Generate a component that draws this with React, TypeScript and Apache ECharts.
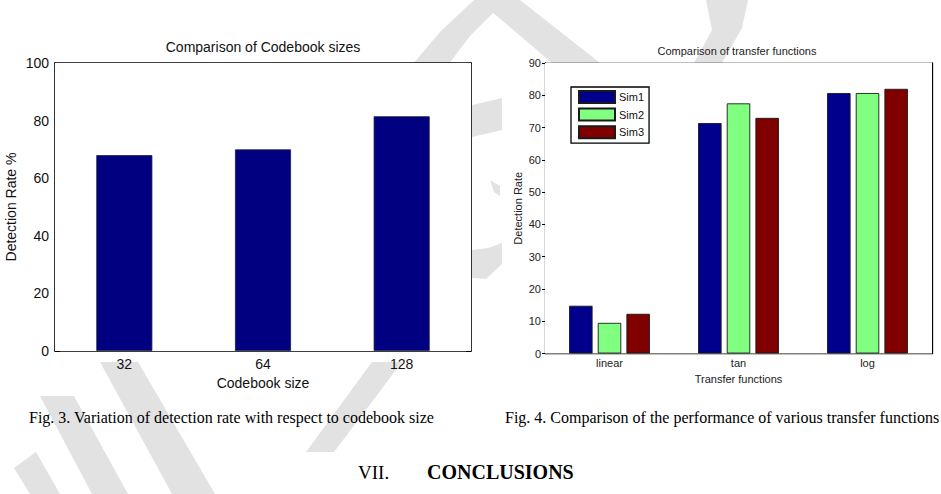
import React, { useEffect, useRef } from "react";
import * as echarts from "echarts";

// Fig. 3 data
const codebookSizes = ["32", "64", "128"];
const codebookRates = [68, 70, 81.5];
const codebookTicks = { min: 0, max: 100, interval: 20 };

// Fig. 4 data
const transferFunctions = ["linear", "tan", "log"];
const simNames = ["Sim1", "Sim2", "Sim3"];
const sim1Rates = [14.8, 71.4, 80.7];
const sim2Rates = [9.5, 77.5, 80.7];
const sim3Rates = [12.3, 73.0, 82.0];
const transferTicks = { min: 0, max: 90, interval: 10 };

const simColors = ["#00008c", "#80ff80", "#800000"];

// Captions and section heading below the figures
const fig3Caption = "Fig. 3. Variation of detection rate with respect to codebook size";
const fig4Caption = "Fig. 4. Comparison of the performance of various transfer functions";
const sectionNumber = "VII.";
const sectionTitle = "CONCLUSIONS";

const SANS = "'Liberation Sans', Arial, Helvetica, sans-serif";
const SERIF = "'Liberation Serif', 'Times New Roman', serif";
const WM = "#e2e2e2";

function wm(points: number[][]) {
  return { type: "polygon", z: -10, silent: true, shape: { points }, style: { fill: WM } };
}

export default function App() {
  const ref = useRef<HTMLDivElement>(null);

  useEffect(() => {
    if (!ref.current) return;
    const chart = echarts.init(ref.current, undefined, { renderer: "svg" });

    const boxAxis = (gridIndex: number, data: string[], position: "top" | "bottom", lw: number) => ({
      type: "category",
      gridIndex,
      data,
      position,
      axisLine: { show: true, onZero: false, lineStyle: { color: "#000", width: lw } },
      axisTick: { show: true, inside: true, alignWithLabel: true, length: 5, lineStyle: { color: "#000", width: 1 } },
      axisLabel: { show: false },
      splitLine: { show: false },
    });

    const option: any = {
      animation: false,
      backgroundColor: "#fff",
      textStyle: { fontFamily: SANS },
      grid: [
        { left: 55, top: 63, width: 416, height: 288, show: true, backgroundColor: "#fff", borderWidth: 0, z: 1 },
        { left: 545, top: 63, width: 387, height: 290.5, show: true, backgroundColor: "#fff", borderWidth: 0, z: 1 },
      ],
      legend: {
        data: simNames,
        orient: "vertical",
        left: 571,
        top: 87,
        icon: "rect",
        itemWidth: 36,
        itemHeight: 12,
        itemGap: 3.6,
        padding: [3, 5, 4, 7],
        borderColor: "#000",
        borderWidth: 1.3,
        backgroundColor: "#fff",
        textStyle: { fontSize: 11, color: "#111", fontFamily: SANS, padding: [0, 0, 0, -1] },
      },
      xAxis: [
        {
          type: "category",
          gridIndex: 0,
          data: codebookSizes,
          position: "bottom",
          axisLine: { show: true, onZero: false, lineStyle: { color: "#000", width: 1.6 } },
          axisTick: { show: true, inside: true, alignWithLabel: true, length: 5, lineStyle: { color: "#000" } },
          axisLabel: { fontSize: 14, color: "#111", margin: 6, fontFamily: SANS },
          name: "Codebook size",
          nameLocation: "middle",
          nameGap: 25,
          nameTextStyle: { fontSize: 14, color: "#111", fontFamily: SANS },
        },
        boxAxis(0, codebookSizes, "top", 1.6),
        {
          type: "category",
          gridIndex: 1,
          data: transferFunctions,
          position: "bottom",
          axisLine: { show: true, onZero: false, lineStyle: { color: "#000", width: 1.3 } },
          axisTick: { show: false },
          axisLabel: { fontSize: 11, color: "#222", margin: 4, fontFamily: SANS },
          name: "Transfer functions",
          nameLocation: "middle",
          nameGap: 19,
          nameTextStyle: { fontSize: 11, color: "#222", fontFamily: SANS },
        },
        boxAxis(1, transferFunctions, "top", 1.3),
      ],
      yAxis: [
        {
          type: "value",
          gridIndex: 0,
          ...codebookTicks,
          position: "left",
          axisLine: { show: true, lineStyle: { color: "#000", width: 1.6 } },
          axisTick: { show: true, inside: true, length: 5, lineStyle: { color: "#000" } },
          axisLabel: { fontSize: 14, color: "#111", margin: 6, fontFamily: SANS },
          splitLine: { show: false },
          name: "Detection Rate %",
          nameLocation: "middle",
          nameGap: 37,
          nameTextStyle: { fontSize: 14, color: "#111", fontFamily: SANS },
        },
        {
          type: "value",
          gridIndex: 0,
          ...codebookTicks,
          position: "right",
          axisLine: { show: true, lineStyle: { color: "#000", width: 1.6 } },
          axisTick: { show: true, inside: true, length: 5, lineStyle: { color: "#000" } },
          axisLabel: { show: false },
          splitLine: { show: false },
        },
        {
          type: "value",
          gridIndex: 1,
          ...transferTicks,
          position: "left",
          axisLine: { show: true, lineStyle: { color: "#000", width: 1.3 } },
          axisTick: { show: true, inside: false, length: 3, lineStyle: { color: "#000" } },
          axisLabel: { fontSize: 11, color: "#222", margin: 4, fontFamily: SANS },
          splitLine: { show: false },
          name: "Detection Rate",
          nameLocation: "middle",
          nameGap: 22,
          nameTextStyle: { fontSize: 11, color: "#222", fontFamily: SANS },
        },
        {
          type: "value",
          gridIndex: 1,
          ...transferTicks,
          position: "right",
          axisLine: { show: true, lineStyle: { color: "#000", width: 1.3 } },
          axisTick: { show: true, inside: true, length: 5, lineStyle: { color: "#000" } },
          axisLabel: { show: false },
          splitLine: { show: false },
        },
      ],
      series: [
        {
          type: "bar",
          name: "Codebook",
          xAxisIndex: 0,
          yAxisIndex: 0,
          data: codebookRates,
          barWidth: 56,
          itemStyle: { color: "#000080", borderColor: "#1c1c44", borderWidth: 0.8 },
          z: 3,
        },
        ...[sim1Rates, sim2Rates, sim3Rates].map((d, i) => ({
          type: "bar",
          name: simNames[i],
          xAxisIndex: 2,
          yAxisIndex: 2,
          data: d,
          barWidth: 23.5,
          barGap: "22%",
          itemStyle: { color: simColors[i], borderColor: "#1a1a1a", borderWidth: 0.9 },
          z: 3,
        })),
      ],
      graphic: [
        // faint watermark strokes behind the figures
        wm([[412, 65], [440, 32], [474, 0], [506, 0], [470, 36], [448, 65]]),
        wm([[478, 0], [520, 0], [600, 63], [552, 63]]),
        wm([[706, 0], [748, 0], [742, 28], [722, 63], [694, 63], [712, 30]]),
        wm([[472, 105], [502, 98], [502, 130], [472, 137]]),
        wm([[490, 180], [500, 186], [500, 196], [494, 192]]),
        wm([[472, 250], [488, 248], [502, 243], [502, 264], [486, 279], [472, 278]]),
        wm([[100, 362], [138, 362], [215, 494], [172, 494]]),
        wm([[40, 396], [74, 396], [128, 494], [92, 494]]),
        wm([[14, 468], [36, 452], [60, 494], [30, 494]]),
        wm([[372, 362], [402, 362], [334, 452], [306, 452]]),
        {
          type: "text",
          x: 263,
          y: 47,
          style: { text: "Comparison of Codebook sizes", fontSize: 14, fontFamily: SANS, fill: "#111", align: "center", verticalAlign: "middle" },
        },
        {
          type: "text",
          x: 737,
          y: 51,
          style: { text: "Comparison of transfer functions", fontSize: 11, fontFamily: SANS, fill: "#222", align: "center", verticalAlign: "middle" },
        },
        {
          type: "text",
          x: 29,
          y: 417,
          style: { text: fig3Caption, fontSize: 16, fontFamily: SERIF, fill: "#000", align: "left", verticalAlign: "middle" },
        },
        {
          type: "text",
          x: 505,
          y: 417,
          style: { text: fig4Caption, fontSize: 16, fontFamily: SERIF, fill: "#000", align: "left", verticalAlign: "middle" },
        },
        {
          type: "text",
          x: 358,
          y: 472,
          style: { text: sectionNumber, fontSize: 19, fontFamily: SERIF, fill: "#000", align: "left", verticalAlign: "middle" },
        },
        {
          type: "text",
          x: 427,
          y: 472,
          style: { text: sectionTitle, fontSize: 20, fontWeight: "bold", fontFamily: SERIF, fill: "#000", align: "left", verticalAlign: "middle" },
        },
      ],
    };

    chart.setOption(option);
    return () => chart.dispose();
  }, []);

  return (
    <div
      ref={ref}
      style={{ position: "absolute", left: 0, top: 0, width: 941, height: 494, background: "#fff" }}
    />
  );
}
